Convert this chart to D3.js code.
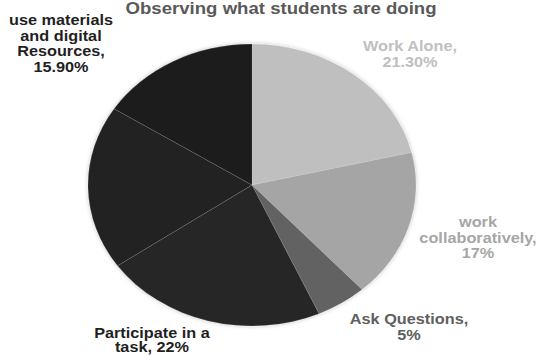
<!DOCTYPE html>
<html>
<head>
<meta charset="utf-8">
<script src="https://cdn.jsdelivr.net/npm/d3@7"></script>
<style>
  html, body { margin: 0; padding: 0; background: #ffffff; }
  svg { display: block; }
  text { font-family: "Liberation Sans", Arial, sans-serif; font-weight: bold; }
</style>
</head>
<body>
<script>
// Share of observed classroom time by activity (percent)
const categories = [
  "Work Alone",
  "work collaboratively",
  "Ask Questions",
  "Participate in a task",
  "Other",
  "use materials and digital Resources"
];
const values = [21.3, 17, 5, 22, 18.8, 15.9];

// Label lines shown beside each slice (the "Other" slice carries no label)
const labelLines = [
  ["Work Alone,", "21.30%"],
  ["work", "collaboratively,", "17%"],
  ["Ask Questions,", "5%"],
  ["Participate in a", "task, 22%"],
  [],
  ["use materials", "and digital", "Resources,", "15.90%"]
];

const sliceColors = ["#bfbfbf", "#a5a5a5", "#626262", "#262626", "#222222", "#1b1b1b"];
const labelColors = ["#c0c0c0", "#a6a6a6", "#606060", "#1f1f1f", "#1f1f1f", "#1f1f1f"];

// Anchor (centre of first line's baseline) for each label block
const labelAnchors = [
  [410, 51], [478, 227], [409, 324], [152, 338], null, [61, 25]
];

const W = 539, H = 355;
const cx = 252, cy = 185, ry = 141, rx = 164;
const stretch = rx / ry; // whole figure is drawn wider than tall

const svg = d3.select("body").append("svg")
  .attr("width", W).attr("height", H);

const defs = svg.append("defs");
const f = defs.append("filter").attr("id", "soft").attr("x", "-10%").attr("y", "-10%")
  .attr("width", "120%").attr("height", "120%");
f.append("feDropShadow").attr("dx", 0).attr("dy", 0).attr("stdDeviation", 2)
  .attr("flood-color", "#000").attr("flood-opacity", 0.25);

// Title
svg.append("text")
  .attr("transform", `translate(281,14) scale(${stretch},1)`)
  .attr("text-anchor", "middle")
  .attr("font-size", 16)
  .attr("fill", "#595959")
  .text("Observing what students are doing");

const pie = d3.pie().sort(null).value(d => d)(values);
const arc = d3.arc().innerRadius(0).outerRadius(ry);

const g = svg.append("g")
  .attr("transform", `translate(${cx},${cy}) scale(${stretch},1)`)
  .attr("filter", "url(#soft)");

g.selectAll("path")
  .data(pie)
  .join("path")
  .attr("d", arc)
  .attr("fill", (d, i) => sliceColors[i])
  .attr("stroke", "rgba(255,255,255,0.12)")
  .attr("stroke-width", 1)
  .attr("vector-effect", "non-scaling-stroke");

// Data labels
const lineH = 14.2;
labelLines.forEach((lines, i) => {
  if (!lines.length) return;
  const [ax, ay] = labelAnchors[i];
  const t = svg.append("text")
    .attr("transform", `translate(${ax},${ay}) scale(${stretch},1)`)
    .attr("text-anchor", "middle")
    .attr("font-size", 14)
    .attr("fill", labelColors[i]);
  lines.forEach((s, j) => {
    t.append("tspan").attr("x", 0).attr("y", j * (i === 3 ? lineH : 15.6)).text(s);
  });
});
</script>
</body>
</html>
